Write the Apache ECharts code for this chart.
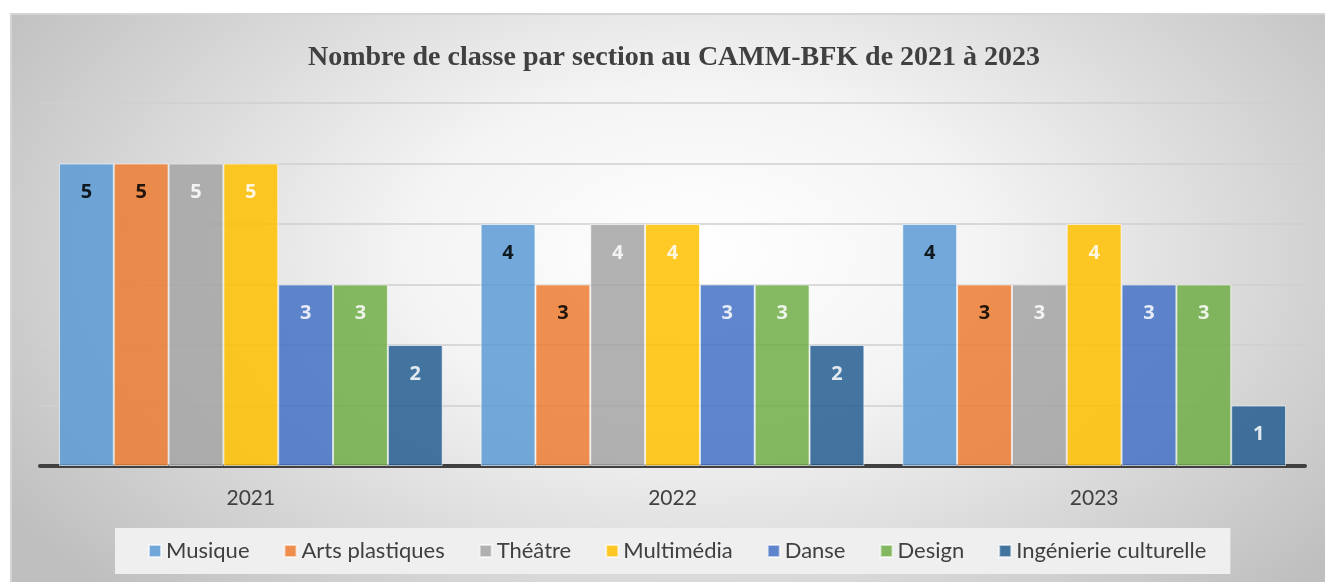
<!DOCTYPE html>
<html>
<head>
<meta charset="utf-8">
<script src="https://cdn.jsdelivr.net/npm/echarts@6/dist/echarts.min.js"></script>
<style>
  html, body { margin: 0; padding: 0; background: #fff; }
  #frame {
    position: absolute; left: 10px; top: 13px; width: 1315px; height: 569px;
    border-top: 2px solid #d4d4d4; border-left: 2px solid #d4d4d4;
    background: radial-gradient(ellipse 62% 85% at 52% 42%, #ffffff 0%, #f4f4f4 35%, #bfbfbf 100%);
  }
  #chart-wrapper { position: absolute; left: 0; top: 0; width: 1325px; height: 582px; }
</style>
</head>
<body>
<div id="frame"></div>
<div id="chart-wrapper"></div>
<script>
const years = ["2021", "2022", "2023"];
const sections = ["Musique", "Arts plastiques", "Théâtre", "Multimédia", "Danse", "Design", "Ingénierie culturelle"];
const musique = [5, 4, 4];
const artsPlastiques = [5, 3, 3];
const theatre = [5, 4, 3];
const multimedia = [5, 4, 4];
const danse = [3, 3, 3];
const design = [3, 3, 3];
const ingenierie = [2, 2, 1];

const values = [musique, artsPlastiques, theatre, multimedia, danse, design, ingenierie];
const colors = ["#5b9bd5", "#ed7d31", "#a5a5a5", "#ffc000", "#4472c4", "#70ad47", "#255e91"];
const labelColors = ["#000", "#000", "#fff", "#fff", "#fff", "#fff", "#fff"];

const chartDom = document.getElementById("chart-wrapper");
const chart = echarts.init(chartDom);

const series = sections.map((name, i) => ({
  name: name,
  type: "bar",
  data: values[i],
  barGap: "0%",
  barCategoryGap: "9%",
  itemStyle: {
    color: colors[i],
    opacity: 0.85,
    borderColor: "rgba(255,255,255,0.7)",
    borderWidth: 1,
  },
  label: {
    show: true,
    position: "insideTop",
    distance: 19,
    color: labelColors[i],
    fontFamily: "Open Sans",
    fontWeight: "bold",
    fontSize: 20,
  },
}));

const option = {
  backgroundColor: "transparent",
  animation: false,
  color: colors,
  title: {
    text: "Nombre de classe par section au CAMM-BFK de 2021 à 2023",
    left: 303,
    top: 39,
    textStyle: {
      fontFamily: "Liberation Serif",
      fontWeight: "bold",
      fontSize: 28,
      color: "#404040",
    },
  },
  legend: {
    bottom: 8,
    left: 115,
    backgroundColor: "#efefef",
    padding: [12, 24, 12, 33],
    itemWidth: 12,
    itemHeight: 12,
    itemGap: 34,
    icon: "rect",
    textStyle: { fontFamily: "Lato", fontSize: 22, color: "#404040" },
    data: sections,
  },
  grid: { left: 40, right: 20, top: 103, bottom: 116, containLabel: false },
  xAxis: {
    type: "category",
    data: years,
    axisTick: { show: false },
    axisLine: { lineStyle: { color: "#404040", width: 4 } },
    axisLabel: { fontFamily: "Lato", fontSize: 21, color: "#404040", margin: 22 },
  },
  yAxis: {
    type: "value",
    min: 0,
    max: 6,
    interval: 1,
    axisLabel: { show: false },
    axisLine: { show: false },
    axisTick: { show: false },
    splitLine: { lineStyle: { color: "#cfcfcf", width: 1.5 } },
  },
  series: series,
};

chart.setOption(option);
</script>
</body>
</html>
